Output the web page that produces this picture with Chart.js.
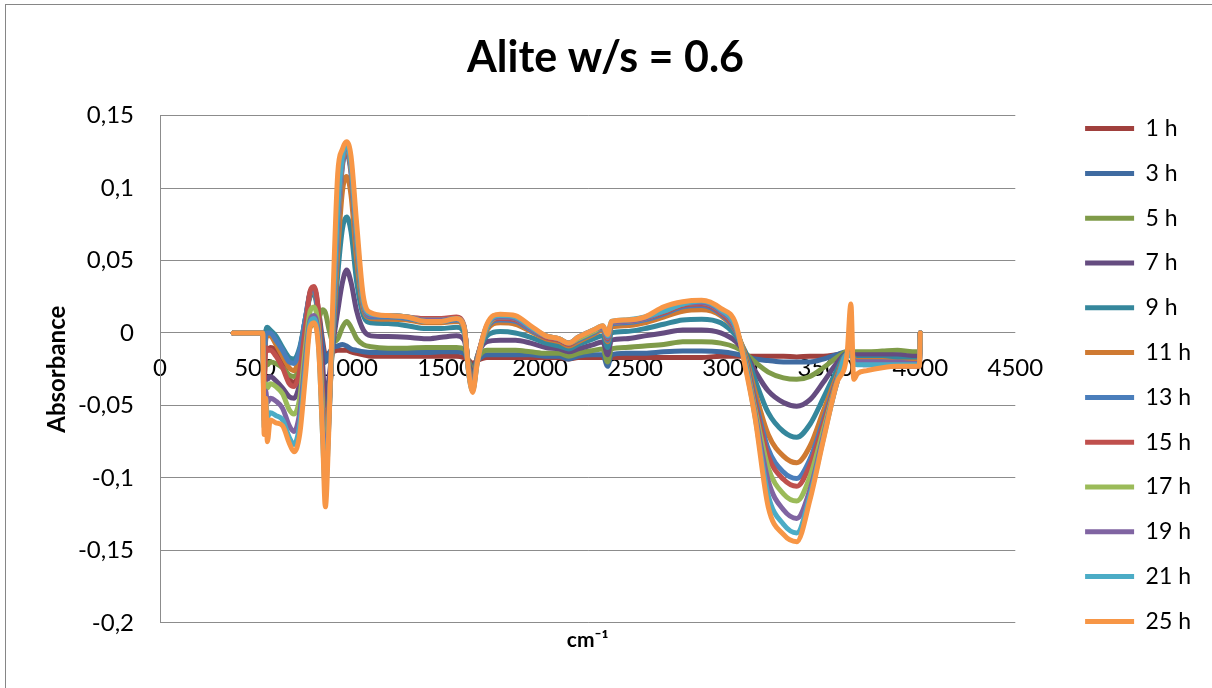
<!DOCTYPE html>
<html>
<head>
<meta charset="utf-8">
<title>Alite w/s = 0.6</title>
<script src="https://cdn.jsdelivr.net/npm/chart.js"></script>
<style>
  html, body { margin: 0; padding: 0; background: #fff; }
  #wrap { position: relative; width: 1212px; height: 688px; }
  #frame { position: absolute; left: 5px; top: 4px; right: -2px; bottom: -2px;
           border-left: 1px solid #868686; border-top: 1px solid #868686; pointer-events: none; }
</style>
</head>
<body>
<div id="wrap">
  <canvas id="spectra"></canvas>
  <div id="frame"></div>
</div>
<script>
// wavenumber grid (cm-1) shared by all series
const wavenumbers = [
  385, 540, 548, 556, 565, 580, 610, 645, 680, 705,
  735, 765, 790, 810, 835, 855, 870, 890, 910, 935,
  960, 982, 1005, 1035, 1070, 1110, 1200, 1300, 1400, 1480,
  1560, 1600, 1625, 1645, 1670, 1720, 1790, 1870, 1950, 2030,
  2100, 2150, 2200, 2280, 2330, 2355, 2375, 2450, 2550, 2650,
  2750, 2850, 2950, 3030, 3080, 3130, 3200, 3280, 3350, 3420,
  3490, 3560, 3615, 3635, 3650, 3670, 3720, 3800, 3880, 3960,
  3995, 4000
];

const h1 = [
  0, 0, -0.020, -0.010, -0.012, -0.010, -0.012, -0.020, -0.032, -0.034,
  -0.025, 0.005, 0.028, 0.031, 0.015, -0.005, -0.015, -0.014, -0.013, -0.012,
  -0.012, -0.012, -0.013, -0.014, -0.015, -0.016, -0.016, -0.016, -0.016, -0.016,
  -0.016, -0.017, -0.019, -0.021, -0.019, -0.017, -0.017, -0.017, -0.017, -0.017,
  -0.017, -0.018, -0.017, -0.017, -0.017, -0.019, -0.017, -0.017, -0.017, -0.017,
  -0.017, -0.017, -0.016, -0.016, -0.016, -0.016, -0.016, -0.016, -0.0165, -0.016,
  -0.016, -0.015, -0.014, -0.014, -0.016, -0.018, -0.020, -0.022, -0.023, -0.023,
  -0.023, 0
];
const h3 = [
  0, 0, -0.015, 0.000, 0.003, 0.000, -0.004, -0.012, -0.019, -0.020,
  -0.012, 0.010, 0.027, 0.029, 0.012, -0.008, -0.020, -0.014, -0.010, -0.009,
  -0.008, -0.009, -0.011, -0.012, -0.013, -0.0135, -0.0135, -0.0135, -0.0135, -0.013,
  -0.013, -0.014, -0.020, -0.024, -0.019, -0.015, -0.015, -0.015, -0.015, -0.016,
  -0.016, -0.018, -0.016, -0.015, -0.015, -0.023, -0.015, -0.014, -0.014, -0.013,
  -0.0125, -0.0125, -0.013, -0.0145, -0.016, -0.018, -0.019, -0.020, -0.020, -0.020,
  -0.018, -0.015, -0.013, -0.013, -0.015, -0.016, -0.017, -0.018, -0.018, -0.018,
  -0.018, 0
];
const h5 = [
  0, 0, -0.030, -0.020, -0.022, -0.020, -0.021, -0.024, -0.029, -0.030,
  -0.024, -0.008, 0.004, 0.006, 0.010, 0.016, 0.014, 0.002, -0.006, -0.004,
  0.004, 0.008, 0.004, -0.004, -0.008, -0.0095, -0.0105, -0.0105, -0.010, -0.010,
  -0.010, -0.011, -0.020, -0.027, -0.018, -0.012, -0.012, -0.012, -0.013, -0.014,
  -0.014, -0.016, -0.014, -0.012, -0.011, -0.020, -0.011, -0.010, -0.009, -0.008,
  -0.006, -0.006, -0.007, -0.010, -0.014, -0.020, -0.027, -0.031, -0.032, -0.030,
  -0.024, -0.017, -0.013, -0.013, -0.013, -0.013, -0.013, -0.0125, -0.012, -0.013,
  -0.013, 0
];
const h7 = [
  0, 0, -0.040, -0.030, -0.032, -0.030, -0.033, -0.038, -0.044, -0.045,
  -0.035, -0.010, 0.008, 0.010, 0.002, -0.020, -0.050, -0.030, -0.008, 0.015,
  0.035, 0.0435, 0.035, 0.015, 0.002, -0.002, -0.0025, -0.003, -0.004, -0.003,
  -0.002, -0.005, -0.022, -0.030, -0.016, -0.006, -0.005, -0.005, -0.007, -0.010,
  -0.011, -0.013, -0.011, -0.008, -0.006, -0.015, -0.005, -0.004, -0.002, 0.000,
  0.002, 0.002, 0.000, -0.006, -0.014, -0.026, -0.040, -0.048, -0.0505, -0.046,
  -0.034, -0.021, -0.014, -0.014, -0.015, -0.015, -0.015, -0.015, -0.015, -0.016,
  -0.016, 0
];
const h9 = [
  0, 0, -0.020, 0.000, 0.004, 0.002, -0.002, -0.010, -0.017, -0.018,
  -0.010, 0.010, 0.025, 0.027, 0.005, -0.040, -0.080, -0.045, -0.005, 0.040,
  0.072, 0.080, 0.070, 0.035, 0.012, 0.007, 0.0065, 0.005, 0.003, 0.003,
  0.004, 0.000, -0.024, -0.033, -0.016, -0.002, 0.001, 0.000, -0.003, -0.007,
  -0.009, -0.011, -0.008, -0.004, -0.002, -0.010, 0.000, 0.001, 0.003, 0.006,
  0.009, 0.0095, 0.007, -0.002, -0.013, -0.032, -0.055, -0.068, -0.072, -0.063,
  -0.045, -0.026, -0.014, -0.014, -0.017, -0.018, -0.018, -0.018, -0.018, -0.019,
  -0.019, 0
];
const h11 = [
  0, 0, -0.030, -0.005, -0.002, -0.002, -0.008, -0.016, -0.024, -0.026,
  -0.015, 0.008, 0.027, 0.029, 0.005, -0.050, -0.088, -0.050, 0.000, 0.055,
  0.098, 0.108, 0.095, 0.050, 0.016, 0.010, 0.0095, 0.009, 0.007, 0.007,
  0.008, 0.003, -0.025, -0.035, -0.017, 0.002, 0.007, 0.006, 0.001, -0.004,
  -0.006, -0.009, -0.006, -0.001, 0.002, -0.006, 0.004, 0.005, 0.007, 0.011,
  0.015, 0.016, 0.012, 0.001, -0.015, -0.040, -0.070, -0.085, -0.0896, -0.078,
  -0.054, -0.030, -0.015, -0.015, -0.018, -0.019, -0.019, -0.019, -0.020, -0.020,
  -0.020, 0
];
const h13 = [
  0, 0, -0.025, -0.002, 0.000, 0.000, -0.005, -0.012, -0.020, -0.021,
  -0.012, 0.010, 0.028, 0.030, 0.004, -0.055, -0.092, -0.050, 0.005, 0.070,
  0.115, 0.124, 0.110, 0.060, 0.018, 0.011, 0.011, 0.010, 0.008, 0.008,
  0.009, 0.004, -0.026, -0.036, -0.018, 0.003, 0.009, 0.008, 0.002, -0.003,
  -0.005, -0.008, -0.005, 0.000, 0.003, -0.005, 0.006, 0.007, 0.009, 0.013,
  0.018, 0.019, 0.013, 0.001, -0.017, -0.045, -0.080, -0.096, -0.1005, -0.087,
  -0.060, -0.032, -0.015, -0.015, -0.019, -0.020, -0.020, -0.020, -0.021, -0.021,
  -0.021, 0
];
const h15 = [
  0, 0, -0.035, -0.010, -0.012, -0.012, -0.016, -0.024, -0.035, -0.037,
  -0.026, 0.004, 0.029, 0.032, 0.012, -0.040, -0.080, -0.050, 0.004, 0.072,
  0.117, 0.126, 0.112, 0.062, 0.019, 0.012, 0.012, 0.011, 0.010, 0.010,
  0.011, 0.005, -0.027, -0.037, -0.018, 0.004, 0.010, 0.009, 0.003, -0.003,
  -0.005, -0.008, -0.004, 0.001, 0.004, -0.004, 0.007, 0.008, 0.010, 0.014,
  0.019, 0.020, 0.014, 0.002, -0.018, -0.048, -0.085, -0.101, -0.1058, -0.091,
  -0.063, -0.033, -0.015, -0.015, -0.020, -0.021, -0.022, -0.022, -0.022, -0.022,
  -0.022, 0
];
const h17 = [
  0, 0, -0.050, -0.035, -0.038, -0.035, -0.037, -0.042, -0.053, -0.056,
  -0.045, -0.010, 0.015, 0.018, 0.000, -0.050, -0.095, -0.055, 0.006, 0.075,
  0.119, 0.128, 0.114, 0.064, 0.020, 0.012, 0.012, 0.011, 0.009, 0.009,
  0.010, 0.004, -0.028, -0.038, -0.019, 0.004, 0.011, 0.010, 0.003, -0.002,
  -0.004, -0.007, -0.004, 0.001, 0.004, -0.003, 0.007, 0.008, 0.010, 0.015,
  0.020, 0.021, 0.015, 0.003, -0.019, -0.052, -0.093, -0.111, -0.116, -0.099,
  -0.067, -0.034, -0.015, -0.015, -0.020, -0.021, -0.021, -0.021, -0.021, -0.021,
  -0.021, 0
];
const h19 = [
  0, 0, -0.060, -0.040, -0.048, -0.045, -0.047, -0.052, -0.064, -0.068,
  -0.055, -0.018, 0.009, 0.012, -0.005, -0.060, -0.100, -0.057, 0.008, 0.078,
  0.120, 0.129, 0.115, 0.065, 0.021, 0.012, 0.012, 0.011, 0.009, 0.009,
  0.010, 0.004, -0.028, -0.039, -0.019, 0.005, 0.011, 0.010, 0.003, -0.002,
  -0.004, -0.007, -0.003, 0.002, 0.004, -0.003, 0.007, 0.008, 0.010, 0.015,
  0.020, 0.021, 0.015, 0.003, -0.021, -0.055, -0.102, -0.122, -0.128, -0.108,
  -0.071, -0.035, -0.015, -0.015, -0.019, -0.020, -0.020, -0.020, -0.020, -0.021,
  -0.021, 0
];
const h21 = [
  0, 0, -0.065, -0.045, -0.058, -0.055, -0.057, -0.060, -0.072, -0.077,
  -0.063, -0.024, 0.007, 0.010, -0.010, -0.070, -0.108, -0.058, 0.012, 0.085,
  0.122, 0.130, 0.117, 0.068, 0.022, 0.013, 0.012, 0.011, 0.008, 0.008,
  0.010, 0.004, -0.029, -0.040, -0.020, 0.005, 0.012, 0.011, 0.004, -0.002,
  -0.004, -0.007, -0.003, 0.002, 0.005, -0.002, 0.008, 0.009, 0.011, 0.015,
  0.020, 0.022, 0.016, 0.004, -0.022, -0.057, -0.112, -0.132, -0.138, -0.112,
  -0.073, -0.035, -0.015, -0.015, -0.021, -0.022, -0.022, -0.022, -0.022, -0.022,
  -0.022, 0
];
const h25 = [
  0, 0, -0.070, -0.045, -0.075, -0.060, -0.062, -0.064, -0.076, -0.082,
  -0.070, -0.030, 0.004, 0.007, -0.012, -0.070, -0.120, -0.060, 0.025, 0.110,
  0.127, 0.132, 0.122, 0.075, 0.025, 0.014, 0.012, 0.011, 0.008, 0.008,
  0.010, 0.004, -0.028, -0.041, -0.020, 0.006, 0.013, 0.012, 0.005, -0.002,
  -0.004, -0.007, -0.003, 0.002, 0.005, -0.001, 0.008, 0.009, 0.011, 0.018,
  0.0215, 0.0225, 0.017, 0.006, -0.024, -0.058, -0.120, -0.139, -0.144, -0.115,
  -0.074, -0.035, -0.014, 0.020, -0.032, -0.028, -0.026, -0.024, -0.023, -0.023,
  -0.023, 0
];

const seriesLabels = ['1 h', '3 h', '5 h', '7 h', '9 h', '11 h', '13 h', '15 h', '17 h', '19 h', '21 h', '25 h'];
const seriesValues = [h1, h3, h5, h7, h9, h11, h13, h15, h17, h19, h21, h25];
const seriesColors = ['#A0403D', '#3F6BA1', '#7F9B49', '#654C80', '#35879C', '#CF7A32',
                      '#4A7EBB', '#C0504D', '#9BBB59', '#8064A2', '#4BACC6', '#F79646'];

const xTickValues = [0, 500, 1000, 1500, 2000, 2500, 3000, 3500, 4000, 4500];
const xTickLabels = ['0', '500', '1000', '1500', '2000', '2500', '3000', '3500', '4000', '4500'];
const yTickValues = [-0.2, -0.15, -0.1, -0.05, 0, 0.05, 0.1, 0.15];
const yTickLabels = ['-0,2', '-0,15', '-0,1', '-0,05', '0', '0,05', '0,1', '0,15'];

const FONT = 'Lato, "Open Sans", sans-serif';
Chart.defaults.font.family = FONT;
Chart.defaults.color = '#000';

const datasets = seriesLabels.map((label, i) => ({
  label: label,
  data: wavenumbers.map((x, j) => ({ x: x, y: seriesValues[i][j] })),
  borderColor: seriesColors[i],
  backgroundColor: seriesColors[i],
  borderWidth: 5,
  borderCapStyle: 'round',
  borderJoinStyle: 'round',
  pointRadius: 0,
  cubicInterpolationMode: 'monotone',
  order: seriesLabels.length - i,   // later hours drawn on top
  yAxisID: 'y'
}));

const ctx = document.getElementById('spectra').getContext('2d');
const chart = new Chart(ctx, {
  type: 'line',
  data: { datasets: datasets },
  options: {
    responsive: true,
    maintainAspectRatio: false,
    animation: false,
    layout: { padding: { left: 10, right: 11, top: 0, bottom: 0 } },
    plugins: {
      title: {
        display: true,
        text: 'Alite w/s = 0.6',
        color: '#000',
        font: { size: 43, weight: 'bold' },
        padding: { top: 32, bottom: 32 }
      },
      subtitle: {
        display: true,
        position: 'bottom',
        fullSize: false,
        text: 'cm⁻¹',
        color: '#000',
        font: { size: 21, weight: 'bold' },
        padding: { top: 5, bottom: 35 }
      },
      legend: {
        position: 'right',
        title: { display: true, text: ' ', font: { size: 10 }, padding: 25 },
        labels: {
          sort: (a, b) => a.datasetIndex - b.datasetIndex,  // 1 h first, like the original
          usePointStyle: true,
          pointStyle: 'line',
          pointStyleWidth: 49,
          padding: 21.8,
          color: '#000',
          font: { size: 23 }
        }
      },
      tooltip: { enabled: false }
    },
    scales: {
      x: {
        type: 'linear',
        min: 0,
        max: 4500,
        position: { y: 0 },
        grid: { display: false },
        border: { display: false },
        afterBuildTicks: s => { s.ticks = xTickValues.map(v => ({ value: v })); },
        ticks: { callback: (v, i) => xTickLabels[i], autoSkip: false, maxRotation: 0, padding: 13, color: '#000', font: { size: 24 } }
      },
      y: {
        min: -0.2,
        max: 0.15,
        afterBuildTicks: s => { s.ticks = yTickValues.map(v => ({ value: v })); },
        ticks: { callback: (v, i) => yTickLabels[i], padding: 26, color: '#000', font: { size: 24 } },
        grid: { color: '#8c8c8c', drawTicks: false },
        border: { display: true, color: '#8c8c8c' },
        title: {
          display: true,
          text: 'Absorbance',
          color: '#000',
          font: { size: 24, weight: 'bold' },
          padding: { top: 33, bottom: 0 }
        },
        afterFit: s => { s.width = 150; }
      },
      // empty box that keeps the legend away from the plot, as in the original
      gap: {
        type: 'linear',
        axis: 'y',
        position: 'right',
        display: true,
        grid: { display: false },
        border: { display: false },
        ticks: { display: false },
        afterFit: s => { s.width = 48; }
      }
    }
  }
});
</script>
</body>
</html>
